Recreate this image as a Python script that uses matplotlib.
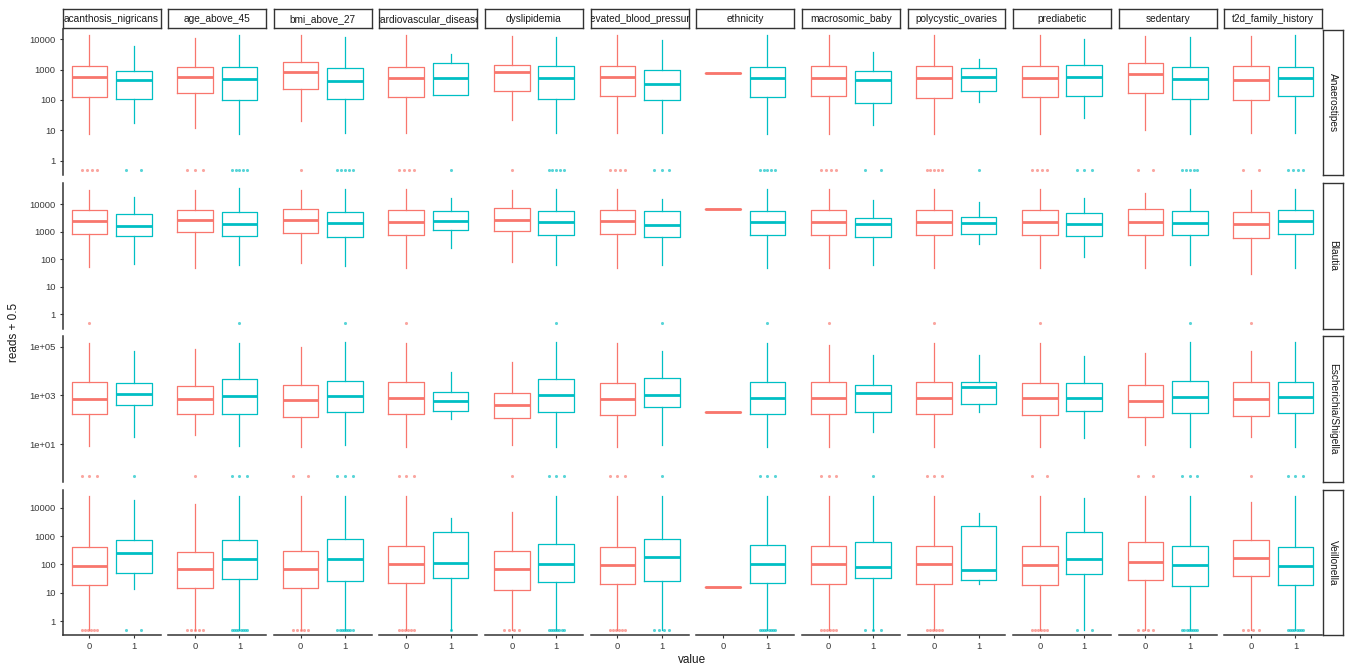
import numpy as np
import matplotlib
matplotlib.use("Agg")
import matplotlib.pyplot as plt
from matplotlib.ticker import FixedLocator, FixedFormatter, NullLocator

plt.rcParams["font.family"] = ["Liberation Sans", "DejaVu Sans"]

variables = ["acanthosis_nigricans", "age_above_45", "bmi_above_27",
             "cardiovascular_disease", "dyslipidemia", "elevated_blood_pressure",
             "ethnicity", "macrosomic_baby", "polycystic_ovaries", "prediabetic",
             "sedentary", "t2d_family_history"]
groups = ["0", "1"]
genera = ["Anaerostipes", "Blautia", "Escherichia/Shigella", "Veillonella"]

# box stats (reads + 0.5), order: var1 "0", var1 "1", var2 "0", ...
anaero_q1 = [125, 105, 166, 102, 225, 106, 120, 143, 194, 111, 133, 100,
             760, 120, 130, 78, 114, 194, 120, 130, 166, 105, 100, 130]
anaero_med = [550, 437, 590, 480, 820, 415, 510, 510, 820, 510, 560, 330,
              760, 520, 520, 458, 510, 590, 510, 590, 690, 480, 458, 510]
anaero_q3 = [1320, 930, 1260, 1260, 1790, 1090, 1260, 1620, 1470, 1320, 1300, 980,
             760, 1260, 1320, 890, 1320, 1140, 1320, 1400, 1700, 1200, 1320, 1200]
anaero_lo = [7.4, 17, 11.4, 7.4, 20, 7.8, 7.8, 143, 21, 7.8, 7.8, 7.8,
             760, 7.4, 7.4, 14.6, 7.4, 86, 7.4, 25, 10, 7.4, 7.8, 7.8]
anaero_hi = [13500, 6000, 10700, 13500, 13500, 12000, 13500, 3160, 13000, 11500, 13500, 9800,
             760, 13500, 13500, 3830, 13500, 2200, 13500, 10000, 13000, 11500, 13000, 13500]
anaero_zeros = [4, 2, 3, 5, 1, 5, 4, 1, 1, 5, 4, 3, 0, 5, 4, 2, 5, 1, 4, 3, 2, 5, 2, 4]

blautia_q1 = [860, 690, 980, 690, 930, 670, 750, 1200, 1100, 790, 830, 650,
              6550, 750, 790, 650, 770, 860, 790, 690, 790, 750, 615, 860]
blautia_med = [2400, 1590, 2760, 1910, 2760, 2090, 2200, 2400, 2760, 2200, 2400, 1820,
               6550, 2200, 2270, 1980, 2270, 2090, 2270, 1920, 2330, 2150, 1920, 2470]
blautia_q3 = [6350, 4570, 6350, 5200, 6700, 5400, 6000, 5850, 7100, 5850, 6000, 5700,
              6550, 5850, 6350, 3170, 6350, 3360, 6350, 4680, 6550, 5850, 5400, 6350]
blautia_lo = [53, 66, 50, 61, 74, 56, 50, 260, 81, 61, 50, 61,
              6550, 50, 47, 61, 50, 372, 50, 122, 50, 61, 29, 50]
blautia_hi = [32000, 18000, 34000, 37000, 34000, 36700, 36000, 16800, 34000, 36000, 36000, 16000,
              6550, 36000, 36000, 14700, 36000, 12000, 36000, 17300, 26300, 36000, 34000, 36000]
blautia_zeros = [1, 0, 0, 1, 0, 1, 1, 0, 0, 1, 0, 1, 0, 1, 1, 0, 1, 0, 1, 0, 0, 1, 1, 0]

esch_q1 = [166, 390, 166, 166, 132, 200, 171, 234, 121, 200, 155, 321,
           206, 171, 165, 213, 165, 454, 160, 227, 129, 188, 137, 194]
esch_med = [710, 1200, 690, 910, 660, 940, 776, 585, 400, 1070, 700, 1030,
            206, 776, 776, 1240, 750, 2190, 750, 800, 585, 880, 700, 830]
esch_q3 = [3560, 3330, 2450, 4570, 2800, 3870, 3520, 1370, 1320, 4540, 3400, 5130,
           206, 3520, 3520, 2740, 3520, 3520, 3400, 3300, 2570, 3870, 3630, 3520]
esch_lo = [8.3, 20, 23, 8.3, 7.5, 8.9, 7.5, 110, 9.4, 7.5, 7.5, 9.4,
           206, 7.5, 7.5, 31, 7.5, 206, 7.5, 17.6, 9.4, 7.5, 19.4, 7.5]
esch_hi = [145000, 66000, 85000, 145000, 96000, 165000, 145000, 9100, 23200, 165000, 145000, 70000,
           206, 145000, 120000, 46500, 145000, 46500, 145000, 41000, 56000, 165000, 70000, 165000]
esch_zeros = [3, 1, 1, 3, 2, 3, 3, 0, 1, 3, 3, 1, 0, 3, 3, 1, 3, 0, 2, 0, 2, 3, 1, 3]

veil_q1 = [19.5, 52, 15.3, 31, 15, 27, 23, 34.5, 13, 24, 20.7, 27,
           16.3, 23, 20, 34.5, 20.7, 29, 19.5, 46, 29, 17, 38, 19.5]
veil_med = [91, 262, 71, 156, 70, 161, 101, 113, 70, 104, 94, 190,
            16.3, 101, 101, 84, 101, 64, 98, 161, 120, 98, 174, 91]
veil_q3 = [415, 730, 285, 750, 308, 815, 460, 1360, 308, 540, 405, 795,
           16.3, 475, 460, 640, 460, 2220, 435, 1360, 620, 447, 710, 415]
veil_lo = [0.5, 14, 0.5, 0.5, 0.5, 0.5, 0.5, 0.5, 0.5, 0.5, 0.5, 0.5,
           16.3, 0.5, 0.5, 0.5, 0.5, 20, 0.5, 0.5, 0.5, 0.5, 0.5, 0.5]
veil_hi = [25000, 19200, 13900, 25000, 25900, 25900, 25900, 4350, 7100, 25900, 25900, 25900,
           16.3, 25900, 25900, 25900, 25900, 6700, 25900, 22000, 25900, 25900, 15900, 25900]
veil_zeros = [6, 2, 5, 8, 5, 8, 6, 1, 4, 8, 6, 4, 0, 8, 6, 3, 6, 0, 6, 2, 4, 8, 4, 8]

stats = {
    "Anaerostipes": (anaero_q1, anaero_med, anaero_q3, anaero_lo, anaero_hi, anaero_zeros),
    "Blautia": (blautia_q1, blautia_med, blautia_q3, blautia_lo, blautia_hi, blautia_zeros),
    "Escherichia/Shigella": (esch_q1, esch_med, esch_q3, esch_lo, esch_hi, esch_zeros),
    "Veillonella": (veil_q1, veil_med, veil_q3, veil_lo, veil_hi, veil_zeros),
}

ylims = {
    "Anaerostipes": (0.33, 2.1e4),
    "Blautia": (0.31, 5.9e4),
    "Escherichia/Shigella": (0.28, 2.7e5),
    "Veillonella": (0.32, 4.3e4),
}
plain_ticks = [1, 10, 100, 1000, 10000]
plain_labels = ["1", "10", "100", "1000", "10000"]
sci_ticks = [10, 1000, 100000]
sci_labels = ["1e+01", "1e+03", "1e+05"]

colors = ["#F8766D", "#00BFC4"]
axis_col = "#333333"

W, H = 1345, 668
fig = plt.figure(figsize=(W / 100, H / 100), dpi=100)


def rect(x0, y0, w, h):
    return [x0 / W, 1 - (y0 + h) / H, w / W, h / H]


col_left, col_pitch, col_w = 62.7, 105.6, 97.8
row_top, row_pitch, row_h = 29.5, 153.4, 145.6

for r, genus in enumerate(genera):
    q1, med, q3, lo, hi, zeros = stats[genus]
    for c, var in enumerate(variables):
        x0 = col_left + c * col_pitch
        y0 = row_top + r * row_pitch
        ax = fig.add_axes(rect(x0, y0, col_w, row_h))
        for g in range(2):
            k = 2 * c + g
            st = dict(med=med[k], q1=q1[k], q3=q3[k], whislo=lo[k], whishi=hi[k], fliers=[])
            ax.bxp([st], positions=[g + 1], widths=0.8, showcaps=False, showfliers=False,
                   boxprops=dict(color=colors[g], lw=0.9),
                   whiskerprops=dict(color=colors[g], lw=0.9),
                   medianprops=dict(color=colors[g], lw=2.0, solid_capstyle="butt"))
            # samples with zero reads sit on one row at 0.5
            n = zeros[k]
            if n:
                offs = np.linspace(-0.17, 0.17, n) if n > 1 else np.array([0.0])
                ax.scatter(g + 1 + offs, np.full(n, 0.5), s=5, color=colors[g],
                           alpha=0.65, linewidths=0, zorder=3)
        ax.set_yscale("log")
        ax.set_ylim(*ylims[genus])
        ax.set_xlim(0.4, 2.6)
        ax.yaxis.set_minor_locator(NullLocator())
        for s in ax.spines.values():
            s.set_visible(False)
        if c == 0:
            ax.spines["left"].set_visible(True)
            ax.spines["left"].set_color(axis_col)
            ax.spines["left"].set_linewidth(1.1)
            if genus == "Escherichia/Shigella":
                ax.yaxis.set_major_locator(FixedLocator(sci_ticks))
                ax.yaxis.set_major_formatter(FixedFormatter(sci_labels))
            else:
                ax.yaxis.set_major_locator(FixedLocator(plain_ticks))
                ax.yaxis.set_major_formatter(FixedFormatter(plain_labels))
            ax.tick_params(axis="y", length=2.5, width=0.8, color=axis_col,
                           labelsize=6.8, labelcolor="#3A3A3A", pad=2.5)
        else:
            ax.tick_params(axis="y", left=False, labelleft=False)
        if r == len(genera) - 1:
            ax.spines["bottom"].set_visible(True)
            ax.spines["bottom"].set_color(axis_col)
            ax.spines["bottom"].set_linewidth(1.1)
            ax.set_xticks([1, 2])
            ax.set_xticklabels(groups)
            ax.tick_params(axis="x", length=2.5, width=0.8, color=axis_col,
                           labelsize=6.8, labelcolor="#3A3A3A", pad=2.5)
        else:
            ax.set_xticks([])

        if r == 0:
            sax = fig.add_axes(rect(x0, 9.0, col_w, 19.3))
            sax.set_xticks([])
            sax.set_yticks([])
            for s in sax.spines.values():
                s.set_color(axis_col)
                s.set_linewidth(1.0)
            sax.text(0.5, 0.5, var, transform=sax.transAxes, ha="center", va="center",
                     fontsize=7.3, color="#1A1A1A", clip_on=True)

    rax = fig.add_axes(rect(1323.3, row_top + r * row_pitch, 20.0, row_h))
    rax.set_xticks([])
    rax.set_yticks([])
    for s in rax.spines.values():
        s.set_color(axis_col)
        s.set_linewidth(1.0)
    rax.text(0.5, 0.5, genus, transform=rax.transAxes, ha="center", va="center",
             rotation=-90, fontsize=7.3, color="#1A1A1A", clip_on=True)

fig.text(14 / W, 1 - 332 / H, "reads + 0.5", rotation=90, ha="center", va="center",
         fontsize=8.5, color="#1A1A1A")
fig.text(692 / W, 1 - 660 / H, "value", ha="center", va="center",
         fontsize=8.5, color="#1A1A1A")

fig.savefig("out.png", dpi=100)
